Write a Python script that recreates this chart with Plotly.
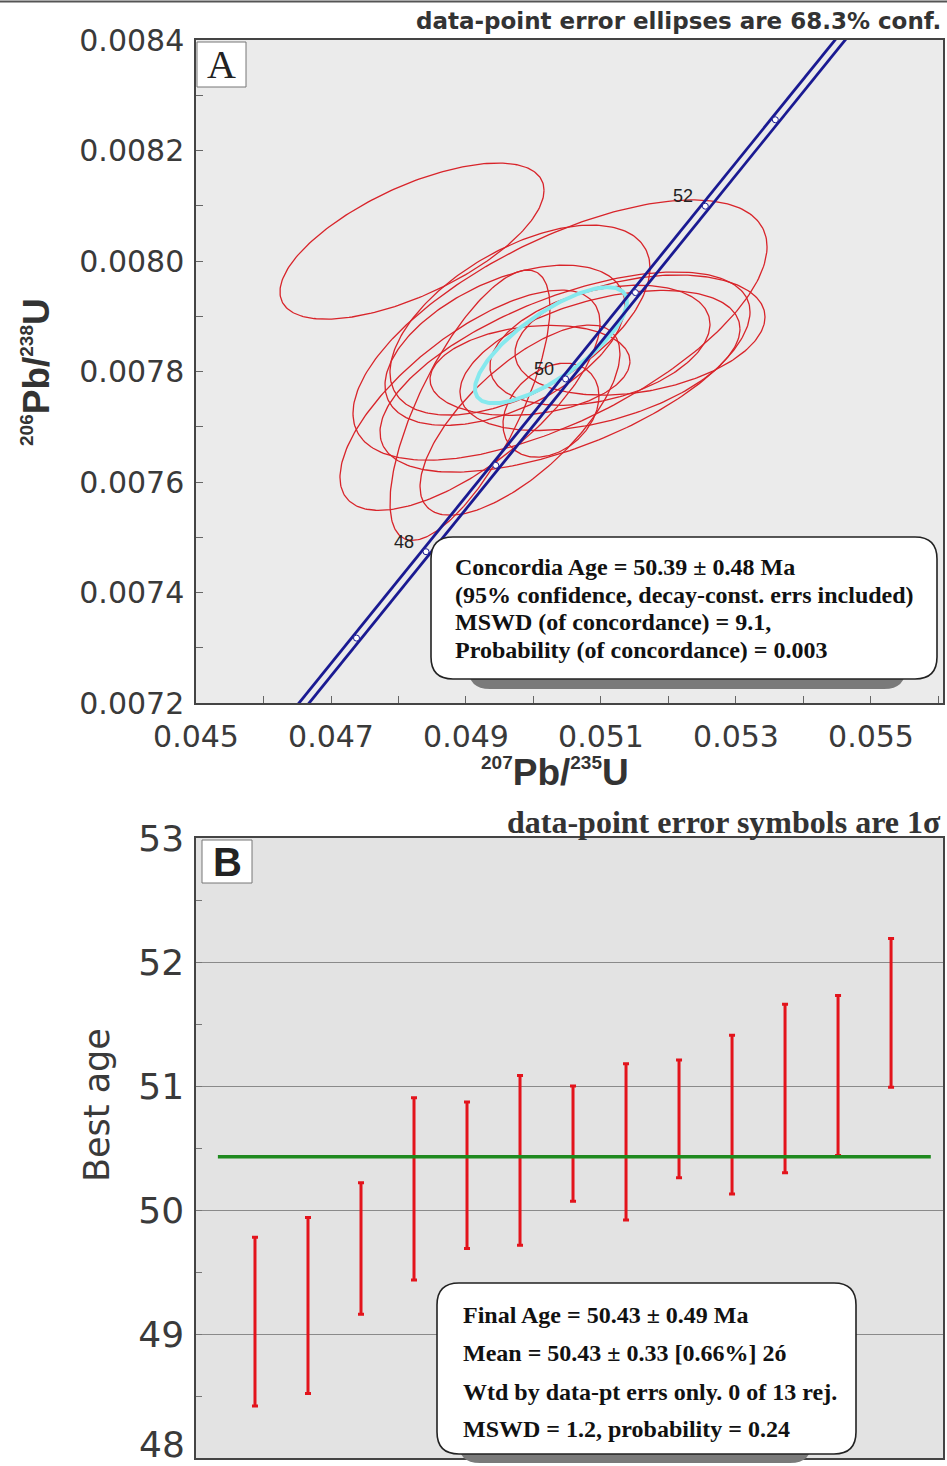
import numpy as np
import plotly.graph_objects as go

W, H = 947, 1466

# ---------------- Panel A : concordia diagram ----------------
conc_age = [46, 47, 48, 49, 50, 51, 52, 53, 54]
conc_x = [0.046345, 0.047378, 0.048408, 0.049441, 0.050475, 0.051510, 0.052546, 0.053583, 0.054622]
conc_y = [0.0071613, 0.0073175, 0.0074738, 0.0076301, 0.0077865, 0.0079428, 0.0080992, 0.0082556, 0.0084120]
conc_band = 0.000075          # half-width of decay-constant error band (207/235)
conc_labels = [48, 50, 52]

# data-point error ellipses: centre, sigma x, sigma y, correlation
ell_cx = [0.04820, 0.050393, 0.050467, 0.04980, 0.049578, 0.050985, 0.051578,
          0.049059, 0.049059, 0.04980, 0.050259, 0.049948, 0.050985]
ell_cy = [0.008036, 0.007875, 0.007799, 0.007893, 0.0078475, 0.007820, 0.007866,
          0.007748, 0.007739, 0.007712, 0.007730, 0.007802, 0.0078475]
ell_sx = [0.001956, 0.003067, 0.002741, 0.001926, 0.001778, 0.002074, 0.001852,
          0.001926, 0.001185, 0.001481, 0.000711, 0.001481, 0.001630]
ell_sy = [0.0001413, 0.0002355, 0.0001812, 0.0001720, 0.0001450, 0.0001268, 0.0001087,
          0.0001993, 0.0002446, 0.0001721, 0.0000851, 0.0000815, 0.0001087]
ell_rho = [0.65, 0.64, 0.60, 0.55, 0.50, 0.45, 0.30, 0.70, 0.72, 0.70, 0.30, 0.20, 0.35]

# concordia-age ellipse
cc_x, cc_y, cc_sx, cc_sy, cc_rho = 0.050259, 0.0078475, 0.001126, 0.0001051, 0.75

a_xticks = [0.045, 0.047, 0.049, 0.051, 0.053, 0.055]
a_yticks = [0.0072, 0.0074, 0.0076, 0.0078, 0.0080, 0.0082, 0.0084]

box_a_lines = ["Concordia Age = 50.39 ± 0.48 Ma",
               "(95% confidence, decay-const. errs included)",
               "MSWD (of concordance) = 9.1,",
               "Probability (of concordance) = 0.003"]

# ---------------- Panel B : weighted mean ----------------
grain = [1, 2, 3, 4, 5, 6, 7, 8, 9, 10, 11, 12, 13]
best_age = [49.10, 49.23, 49.69, 50.17, 50.28, 50.40, 50.535, 50.55, 50.735, 50.77, 50.98, 51.085, 51.59]
err_1s = [0.68, 0.71, 0.53, 0.735, 0.59, 0.685, 0.465, 0.63, 0.475, 0.64, 0.68, 0.645, 0.60]
mean_age = 50.43
mean_span = [0.3, 13.75]
b_yticks = [49, 50, 51, 52, 53]
b_ybottom = 48

box_b_lines = ["Final Age = 50.43 ± 0.49 Ma",
               "Mean = 50.43 ± 0.33 [0.66%] 2ó",
               "Wtd by data-pt errs only. 0 of 13 rej.",
               "MSWD = 1.2, probability = 0.24"]

# ---------------- helpers ----------------
def px(x):
    return x / W

def py(y):
    return 1 - y / H

def rounded(x0, y0, x1, y1, r):
    X0, X1 = px(x0), px(x1)
    Yt, Yb = py(y0), py(y1)
    rx, ry = r / W, r / H
    return (f"M {X0+rx},{Yt} L {X1-rx},{Yt} Q {X1},{Yt} {X1},{Yt-ry} "
            f"L {X1},{Yb+ry} Q {X1},{Yb} {X1-rx},{Yb} L {X0+rx},{Yb} "
            f"Q {X0},{Yb} {X0},{Yb+ry} L {X0},{Yt-ry} Q {X0},{Yt} {X0+rx},{Yt} Z")

NAVY = "#1a1a92"
RED_E = "#d8242a"
RED_B = "#e3141c"
TICKFONT = dict(family="DejaVu Sans", size=30, color="#3a3a3a")
BFONT = dict(family="DejaVu Sans", size=36, color="#3a3a3a")

fig = go.Figure()

t = np.linspace(0, 2 * np.pi, 241)
for cx, cy, sx, sy, r in zip(ell_cx, ell_cy, ell_sx, ell_sy, ell_rho):
    ex = cx + sx * np.cos(t)
    ey = cy + sy * (r * np.cos(t) + np.sqrt(1 - r * r) * np.sin(t))
    fig.add_trace(go.Scatter(x=ex, y=ey, mode="lines", line=dict(color=RED_E, width=1.3),
                             xaxis="x", yaxis="y", hoverinfo="skip", showlegend=False))

ex = cc_x + cc_sx * np.cos(t)
ey = cc_y + cc_sy * (cc_rho * np.cos(t) + np.sqrt(1 - cc_rho ** 2) * np.sin(t))
fig.add_trace(go.Scatter(x=ex, y=ey, mode="lines", line=dict(color="#86e9ee", width=4),
                         xaxis="x", yaxis="y", hoverinfo="skip", showlegend=False))

cxa = np.array(conc_x)
for sgn in (-1, 1):
    fig.add_trace(go.Scatter(x=cxa + sgn * conc_band, y=conc_y, mode="lines",
                             line=dict(color=NAVY, width=2.8), xaxis="x", yaxis="y",
                             hoverinfo="skip", showlegend=False))
fig.add_trace(go.Scatter(x=conc_x, y=conc_y, mode="markers",
                         marker=dict(symbol="circle", size=6, color="white",
                                     line=dict(color=NAVY, width=1)),
                         xaxis="x", yaxis="y", hoverinfo="skip", showlegend=False))

# panel B
fig.add_trace(go.Scatter(x=grain, y=best_age, mode="markers",
                         marker=dict(size=2, color=RED_B),
                         error_y=dict(type="data", array=err_1s, color=RED_B, thickness=3, width=3),
                         xaxis="x2", yaxis="y2", hoverinfo="skip", showlegend=False))
fig.add_trace(go.Scatter(x=mean_span, y=[mean_age, mean_age], mode="lines",
                         line=dict(color="#1f8a1f", width=3.5),
                         xaxis="x2", yaxis="y2", hoverinfo="skip", showlegend=False))

dom_x = [px(196), px(943)]
fig.update_layout(
    template="none",
    width=W, height=H, margin=dict(l=0, r=0, t=0, b=0, pad=0, autoexpand=False),
    paper_bgcolor="white", plot_bgcolor="white", showlegend=False,
    xaxis=dict(domain=dom_x, anchor="y", range=[0.045, 0.056067], automargin=False,
               tickvals=a_xticks, tickformat=".3f", ticks="inside", ticklen=7,
               tickcolor="#666", minor=dict(dtick=0.001, tick0=0.045, ticks="inside", ticklen=7, tickcolor="#666"),
               showgrid=False, zeroline=False, showline=True, mirror=True,
               linecolor="#444", linewidth=1.5, tickfont=TICKFONT, ticklabelstandoff=6,
               ticklabeloverflow="allow"),
    yaxis=dict(domain=[py(703), py(40)], anchor="x", range=[0.0072, 0.0084], automargin=False,
               tickvals=a_yticks, tickformat=".4f", ticks="inside", ticklen=7,
               tickcolor="#666", minor=dict(dtick=0.0001, tick0=0.0072, ticks="inside", ticklen=7, tickcolor="#666"),
               showgrid=False, zeroline=False, showline=True, mirror=True,
               linecolor="#444", linewidth=1.5, tickfont=TICKFONT, ticklabelstandoff=4,
               ticklabeloverflow="allow"),
    xaxis2=dict(domain=dom_x, anchor="y2", range=[-0.113, 13.98], automargin=False,
                showticklabels=False, ticks="", showgrid=False, zeroline=False,
                showline=True, mirror=True, linecolor="#444", linewidth=1.5),
    yaxis2=dict(domain=[py(1458), py(838)], anchor="x2", range=[48, 53], automargin=False,
                tickvals=b_yticks, ticks="inside", ticklen=6, tickcolor="#777",
                minor=dict(dtick=0.5, tick0=48, ticks="inside", ticklen=6, tickcolor="#777", showgrid=False),
                showgrid=True, gridcolor="#8a8a8a", gridwidth=1.2, zeroline=False,
                showline=True, mirror=True, linecolor="#444", linewidth=1.5,
                tickfont=BFONT, ticklabelstandoff=3, ticklabeloverflow="allow"),
)

shapes = [
    # plot backgrounds
    dict(type="rect", xref="x domain", yref="y domain", x0=0, x1=1, y0=0, y1=1,
         fillcolor="#ebebeb", line=dict(width=0), layer="below"),
    dict(type="rect", xref="x2 domain", yref="y2 domain", x0=0, x1=1, y0=0, y1=1,
         fillcolor="#e3e3e3", line=dict(width=0), layer="below"),
    # top rule
    dict(type="line", xref="paper", yref="paper", x0=0, x1=1, y0=py(1.5), y1=py(1.5),
         line=dict(color="#555", width=2)),
    # panel label boxes
    dict(type="rect", xref="paper", yref="paper", x0=px(197), x1=px(246), y0=py(87), y1=py(42),
         fillcolor="white", line=dict(color="#777", width=1)),
    dict(type="rect", xref="paper", yref="paper", x0=px(202), x1=px(252), y0=py(883), y1=py(840),
         fillcolor="white", line=dict(color="#777", width=1)),
    # text boxes with shadows
    dict(type="path", xref="paper", yref="paper", path=rounded(468, 548, 906, 689, 22),
         fillcolor="#7a7a7a", line=dict(width=0), layer="above"),
    dict(type="path", xref="paper", yref="paper", path=rounded(431, 537, 937, 679, 22),
         fillcolor="white", line=dict(color="#222", width=1.6), layer="above"),
    dict(type="path", xref="paper", yref="paper", path=rounded(458, 1294, 812, 1463, 22),
         fillcolor="#7a7a7a", line=dict(width=0), layer="above"),
    dict(type="path", xref="paper", yref="paper", path=rounded(437, 1283, 856, 1454, 22),
         fillcolor="white", line=dict(color="#222", width=1.6), layer="above"),
]
fig.update_layout(shapes=shapes)

ann = []
# titles
ann.append(dict(text="<b>data-point error ellipses are 68.3% conf.</b>", xref="paper", yref="paper",
                x=px(943), y=py(21), xanchor="right", yanchor="middle", showarrow=False,
                font=dict(family="DejaVu Sans", size=23, color="#333")))
ann.append(dict(text="<b>data-point error symbols are 1σ</b>", xref="paper", yref="paper",
                x=px(943), y=py(822), xanchor="right", yanchor="middle", showarrow=False,
                font=dict(family="Liberation Serif", size=32, color="#333")))
# panel letters
ann.append(dict(text="A", xref="paper", yref="paper", x=px(221.5), y=py(65), showarrow=False,
                xanchor="center", yanchor="middle",
                font=dict(family="Liberation Serif", size=40, color="#222")))
ann.append(dict(text="<b>B</b>", xref="paper", yref="paper", x=px(227), y=py(862), showarrow=False,
                xanchor="center", yanchor="middle",
                font=dict(family="Liberation Sans", size=40, color="#222")))
# bottom tick label of panel B (kept inside the page)
ann.append(dict(text=str(b_ybottom), xref="paper", yref="paper", x=px(186), y=py(1466),
                xanchor="right", yanchor="bottom", showarrow=False, borderpad=0,
                font=BFONT))
# axis titles
sup = lambda s: f"<sup><span style='font-size:19px'>{s}</span></sup>"
ann.append(dict(text=f"<b>{sup('207')}Pb/{sup('235')}U</b>", xref="paper", yref="paper",
                x=px(555), y=py(773), xanchor="center", yanchor="middle", showarrow=False,
                font=dict(family="Liberation Sans", size=37, color="#333")))
ann.append(dict(text=f"<b>{sup('206')}Pb/{sup('238')}U</b>", xref="paper", yref="paper",
                x=px(37), y=py(372), xanchor="center", yanchor="middle", showarrow=False,
                textangle=-90, font=dict(family="Liberation Sans", size=37, color="#333")))
ann.append(dict(text="Best age", xref="paper", yref="paper",
                x=px(97), y=py(1105), xanchor="center", yanchor="middle", showarrow=False,
                textangle=-90, font=dict(family="DejaVu Sans", size=35, color="#3a3a3a")))
# concordia age labels
for a in conc_labels:
    i = conc_age.index(a)
    ann.append(dict(text=str(a), xref="x", yref="y", x=conc_x[i], y=conc_y[i],
                    xshift=-22, yshift=10, showarrow=False, xanchor="center", yanchor="middle",
                    font=dict(family="Liberation Sans", size=18, color="#222")))
# box texts
for line, yy in zip(box_a_lines, [567, 595, 622, 650]):
    ann.append(dict(text=f"<b>{line}</b>", xref="paper", yref="paper", x=px(453), y=py(yy),
                    xanchor="left", yanchor="middle", showarrow=False,
                    font=dict(family="Liberation Serif", size=24, color="#111")))
for line, yy in zip(box_b_lines, [1315, 1353, 1392, 1429]):
    ann.append(dict(text=f"<b>{line}</b>", xref="paper", yref="paper", x=px(461), y=py(yy),
                    xanchor="left", yanchor="middle", showarrow=False,
                    font=dict(family="Liberation Serif", size=24, color="#111")))
fig.update_layout(annotations=ann)

fig.write_html("out.html", config={"displayModeBar": False},
               post_script="document.body.style.margin='0';document.body.style.overflow='hidden';")
